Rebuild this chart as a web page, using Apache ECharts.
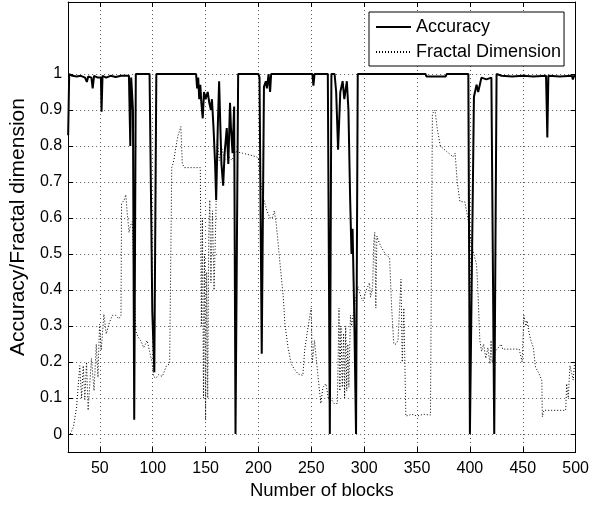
<!DOCTYPE html>
<html><head><meta charset="utf-8">
<script src="https://cdn.jsdelivr.net/npm/echarts@6/dist/echarts.min.js"></script>
<style>html,body{margin:0;padding:0;background:#fff}#c{width:592px;height:505px}</style>
</head><body><div id="c"></div>
<script>
const xTicks = [50,100,150,200,250,300,350,400,450,500];
const yTicks = [0,0.1,0.2,0.3,0.4,0.5,0.6,0.7,0.8,0.9,1];

const accuracy = [
[20,0.83],[21,1.0],[24,0.995],[28,0.993],[32,0.995],[36,0.99],[37.7,0.978],[39,0.993],[42,0.99],[43.2,0.96],[44.5,0.995],[48,0.99],[51,0.99],[51.6,0.895],[52.5,0.995],[56,0.99],[60,0.995],[65,0.992],[70,0.995],[75,0.995],[77.5,0.995],[78.8,0.80],[79.6,0.99],[80.4,0.95],[81.3,0.9],[82.5,0.04],[84,1.0],[97,1.0],[98.7,0.578],[99.6,0.34],[101.5,0.172],[103.4,1.0],[141,1.0],[142,0.96],[143,0.99],[144,0.93],[145,0.97],[146,0.92],[147.3,0.877],[148.5,0.95],[150,0.93],[152,0.95],[153.5,0.92],[155,0.9],[156,0.93],[157.5,0.85],[159,0.75],[160,0.65],[161.5,0.85],[162.8,0.98],[164,0.85],[165,0.75],[166.6,0.69],[168,0.78],[170,0.85],[171.5,0.75],[173.1,0.92],[174,0.85],[175.5,0.78],[177,0.91],[178.3,0.0],[180.8,1.0],[200,1.0],[201,0.99],[203.1,0.223],[205.2,0.965],[207,0.98],[208,0.96],[209.6,1.0],[211,0.95],[212,1.0],[251,1.0],[252,0.968],[253,1.0],[265.6,1.0],[267.5,0.0],[269,1.0],[272,1.0],[273.5,0.95],[275.3,0.79],[277.4,0.95],[279.6,0.98],[281.2,0.93],[283.6,0.98],[285.1,0.9],[286.7,0.655],[288,0.5],[289,0.57],[290.5,0.35],[292.3,0.0],[293.9,1.0],[358,1.0],[359,0.993],[377,0.993],[378,1.0],[398.5,1.0],[400,0.0],[401.5,0.0],[403.8,0.937],[406.3,0.97],[407.8,0.95],[410.9,0.99],[415.6,0.985],[420.3,0.99],[421.5,0.99],[423,0.0],[424,0.0],[425.2,1.0],[430,0.995],[440,0.993],[450,0.995],[460,0.993],[472,0.995],[473.2,0.824],[474.2,0.995],[485,0.993],[496.5,0.995],[497.4,0.985],[498.5,0.995],[500,0.995]
];

const fractal = [
[22,0.0],[25,0.02],[28,0.075],[31,0.19],[32.7,0.10],[34.3,0.19],[35.8,0.096],[37.4,0.20],[38.9,0.066],[42,0.21],[44.5,0.12],[46.6,0.25],[48.2,0.158],[49.7,0.305],[51.3,0.233],[53.8,0.333],[56,0.278],[59,0.31],[62,0.33],[65,0.33],[68,0.32],[70,0.33],[70.5,0.64],[73,0.65],[74.5,0.665],[76,0.61],[77.6,0.56],[79,0.58],[80.7,0.59],[83.8,0.288],[86,0.27],[88.5,0.26],[91.5,0.24],[94.7,0.26],[97,0.23],[99.3,0.20],[100.9,0.16],[103,0.155],[105.5,0.165],[109,0.16],[113,0.19],[116,0.195],[118,0.74],[120,0.76],[122,0.80],[124,0.83],[126.6,0.854],[128,0.75],[130,0.74],[143,0.74],[145,0.74],[146,0.30],[147,0.60],[148,0.10],[149,0.50],[150,0.04],[151,0.45],[152,0.10],[153,0.55],[154,0.65],[155,0.42],[156.5,0.62],[158,0.40],[159.7,0.60],[161,0.82],[163,0.76],[165,0.80],[168,0.76],[172,0.77],[175,0.76],[178,0.785],[185,0.78],[192,0.775],[198,0.77],[200,0.766],[202,0.70],[204.7,0.655],[208,0.62],[211,0.60],[213,0.60],[215,0.62],[217,0.58],[220.5,0.47],[223.5,0.38],[225,0.306],[228,0.24],[231,0.195],[234,0.18],[237.5,0.167],[242,0.163],[243.7,0.233],[246.8,0.296],[249.8,0.35],[251,0.20],[253,0.26],[256,0.17],[259,0.085],[261,0.13],[263.8,0.14],[266,0.10],[268,0.10],[271.6,0.085],[274.6,0.085],[276.2,0.35],[277,0.12],[278,0.30],[279.3,0.13],[280.5,0.28],[281.5,0.10],[282.5,0.30],[283.5,0.12],[284.5,0.25],[285.5,0.13],[287,0.33],[288,0.30],[291,0.36],[294,0.41],[297,0.38],[299,0.37],[302,0.40],[305,0.42],[306,0.38],[308,0.41],[309,0.53],[310,0.56],[311,0.35],[312,0.55],[313,0.54],[316,0.52],[320,0.50],[324,0.49],[326,0.35],[328,0.25],[330,0.25],[332,0.26],[334.8,0.43],[336,0.20],[337.5,0.35],[339.4,0.05],[345,0.055],[350,0.05],[356,0.055],[362.7,0.053],[364.5,0.89],[367,0.90],[369,0.85],[372,0.80],[378,0.785],[384,0.77],[386,0.78],[388,0.70],[390.5,0.646],[395.2,0.645],[398,0.60],[402,0.52],[406.3,0.47],[407.5,0.40],[409.4,0.26],[411,0.23],[413,0.25],[415,0.21],[417,0.24],[419,0.195],[420,0.26],[421,0.20],[424,0.23],[429.6,0.25],[431,0.236],[446.6,0.236],[449.4,0.20],[451,0.33],[453,0.30],[454,0.315],[456,0.28],[457.7,0.26],[460,0.24],[462,0.186],[465,0.17],[468,0.15],[468.5,0.048],[470,0.066],[490.6,0.066],[491.5,0.14],[493,0.10],[494.6,0.19],[497.7,0.15],[499,0.20]
];

const font = '"Liberation Sans", Arial, Helvetica, sans-serif';
const chart = echarts.init(document.getElementById('c'), null, {renderer: 'canvas'});
const gridLine = {show: true, lineStyle: {color: '#555', width: 1, type: [1, 3]}};
const boxLine = {show: true, onZero: false, lineStyle: {color: '#000', width: 1}};

chart.setOption({
  animation: false,
  backgroundColor: '#fff',
  grid: {left: 61, right: 15, top: 2, bottom: 49},
  legend: {
    orient: 'vertical', left: 369, top: 12,
    padding: [5, 3, 4, 6], itemGap: 5, itemWidth: 35, itemHeight: 14,
    backgroundColor: '#fff', borderColor: '#000', borderWidth: 1, borderRadius: 0,
    itemStyle: {opacity: 0},
    textStyle: {fontSize: 18, fontFamily: font, color: '#000', lineHeight: 20},
    data: ['Accuracy', 'Fractal Dimension']
  },
  xAxis: [{
    type: 'value', min: 20, max: 500, position: 'bottom',
    axisLine: boxLine,
    axisTick: {show: true, inside: true, length: 5, customValues: xTicks, lineStyle: {color: '#000'}},
    axisLabel: {customValues: xTicks, color: '#000', fontSize: 16, fontFamily: font, margin: 8},
    splitLine: gridLine,
    name: 'Number of blocks', nameLocation: 'middle', nameGap: 25,
    nameTextStyle: {fontSize: 18.5, fontFamily: font, color: '#000'}
  }, {
    type: 'value', min: 20, max: 500, position: 'top',
    axisLine: boxLine,
    axisTick: {show: true, inside: true, length: 5, customValues: xTicks, lineStyle: {color: '#000'}},
    axisLabel: {show: false}, splitLine: {show: false}
  }],
  yAxis: [{
    type: 'value', min: -0.05, max: 1.2, position: 'left',
    axisLine: boxLine,
    axisTick: {show: true, inside: true, length: 5, customValues: yTicks, lineStyle: {color: '#000'}},
    axisLabel: {customValues: yTicks, color: '#000', fontSize: 16, fontFamily: font, margin: 6,
      formatter: v => (Math.round(v * 10) / 10).toString()},
    splitLine: gridLine,
    name: 'Accuracy/Fractal dimension', nameLocation: 'middle', nameGap: 35,
    nameTextStyle: {fontSize: 21, fontFamily: font, color: '#000'}
  }, {
    type: 'value', min: -0.05, max: 1.2, position: 'right',
    axisLine: boxLine,
    axisTick: {show: true, inside: true, length: 5, customValues: yTicks, lineStyle: {color: '#000'}},
    axisLabel: {show: false}, splitLine: {show: false}
  }],
  series: [{
    name: 'Accuracy', type: 'line', data: accuracy, symbol: 'none', z: 3,
    lineStyle: {color: '#000', width: 2}, itemStyle: {color: '#000'}
  }, {
    name: 'Fractal Dimension', type: 'line', data: fractal, symbol: 'none', z: 2,
    lineStyle: {color: '#000', width: 1, type: [1, 2]}, itemStyle: {color: '#000'}
  }]
});
</script>
</body></html>
